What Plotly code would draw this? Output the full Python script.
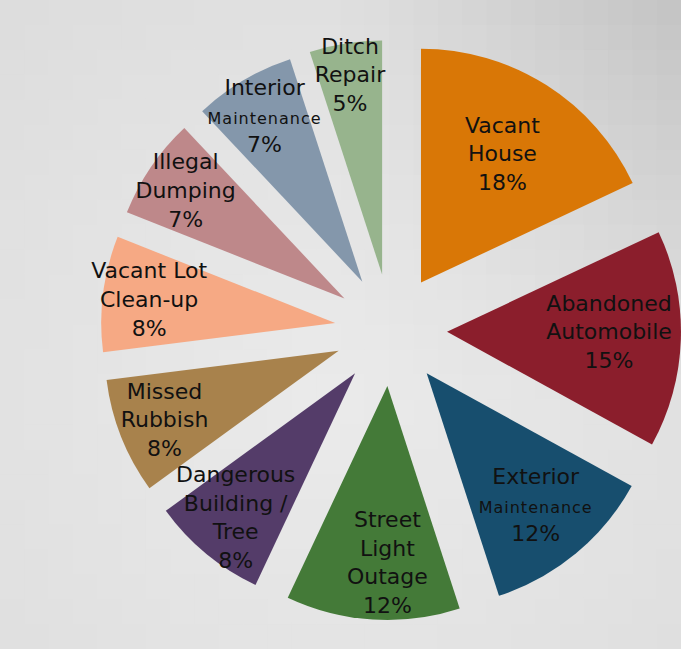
import plotly.graph_objects as go

categories = [
    "Vacant<br>House",
    "Abandoned<br>Automobile",
    "Exterior<br><span style='font-size:16px;letter-spacing:1px'>Maintenance</span>",
    "Street<br>Light<br>Outage",
    "Dangerous<br>Building /<br>Tree",
    "Missed<br>Rubbish",
    "Vacant Lot<br>Clean-up",
    "Illegal<br>Dumping",
    "Interior<br><span style='font-size:16px;letter-spacing:1px'>Maintenance</span>",
    "Ditch<br>Repair",
]
values = [18, 15, 12, 12, 8, 8, 8, 7, 7, 5]
colors = ["#D97706", "#8B1E2C", "#174E6E", "#447A38", "#543C69",
          "#A8824C", "#F6A984", "#BE888A", "#8497AB", "#97B48D"]

W, H = 681, 649

# background gradient as a grid of rectangles
shapes = []
nx, ny = 28, 26
for i in range(nx):
    for j in range(ny):
        x0, x1 = i / nx, (i + 1) / nx
        y0, y1 = j / ny, (j + 1) / ny
        px = (x0 + x1) / 2 * W
        py = H - (y0 + y1) / 2 * H
        d = ((px - 330) ** 2 + (py - 400) ** 2) ** 0.5
        L = 235 - 0.027 * d - 1.8e-4 * max(0, px - 330) * max(0, 400 - py)
        L = int(max(190, min(238, L)))
        shapes.append(dict(type="rect", xref="paper", yref="paper",
                           x0=x0, x1=x1 + 0.002, y0=y0, y1=y1 + 0.002,
                           fillcolor=f"rgb({L},{L},{L})", line=dict(width=0),
                           layer="below"))

fig = go.Figure(go.Pie(
    labels=categories,
    values=values,
    sort=False,
    direction="clockwise",
    rotation=0,
    pull=[0.24] * len(values),
    marker=dict(colors=colors, line=dict(width=0)),
    texttemplate="%{label}<br>%{percent:.0%}",
    textposition="inside",
    insidetextorientation="horizontal",
    insidetextfont=dict(family="DejaVu Sans", size=22, color="#111111"),
    hoverinfo="label+percent",
    showlegend=False,
    domain=dict(x=[0.148, 1.0], y=[0.04, 0.943]),
))

fig.update_layout(
    width=W, height=H,
    margin=dict(l=0, r=0, t=0, b=0),
    paper_bgcolor="#e4e4e4",
    plot_bgcolor="#e4e4e4",
    shapes=shapes,
    uniformtext=dict(minsize=22, mode="show"),
    font=dict(family="DejaVu Sans"),
)

fig.write_html("out.html",
               config={"displayModeBar": False},
               post_script="document.body.style.margin='0';document.body.style.overflow='hidden';")
